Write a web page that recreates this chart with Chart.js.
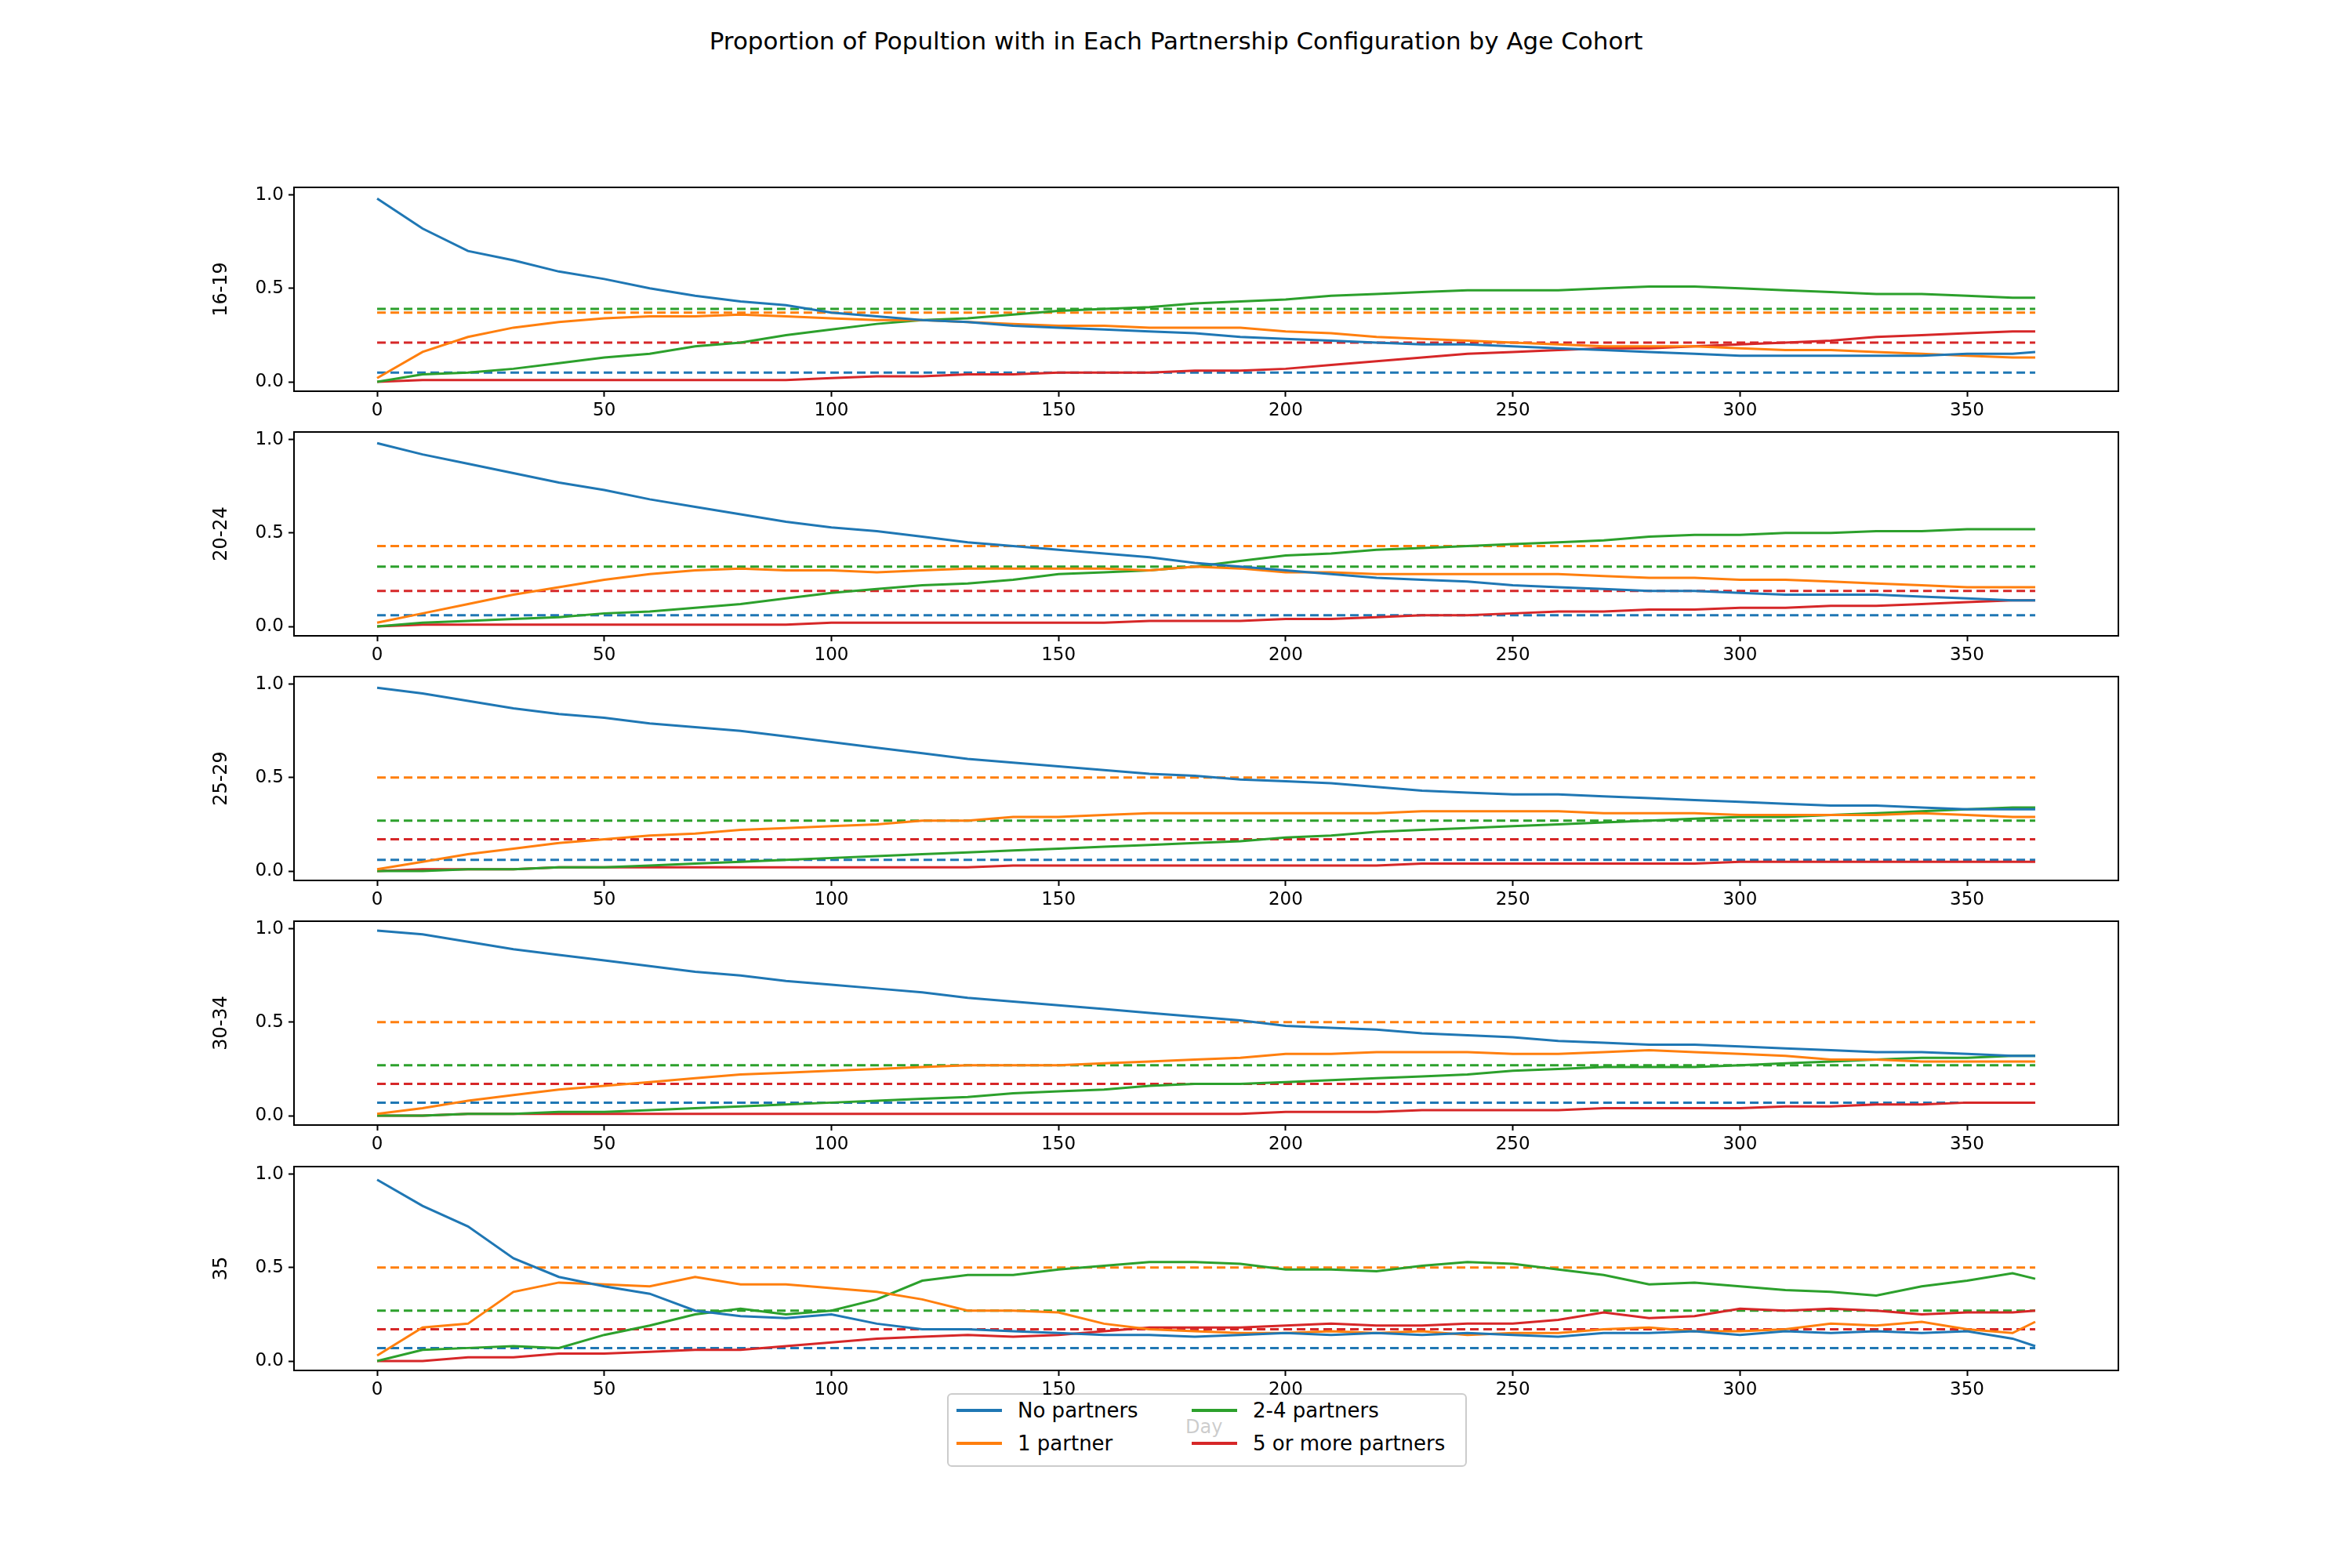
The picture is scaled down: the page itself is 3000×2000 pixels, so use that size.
<!DOCTYPE html>
<html>
<head>
<meta charset="utf-8">
<script src="https://cdn.jsdelivr.net/npm/chart.js@4"></script>
<style>
  body { margin: 0; background: #fff; font-family: "DejaVu Sans", sans-serif; }
  #fig { position: relative; width: 3000px; height: 2000px; }
  .panel { position: absolute; left: 0; width: 2742px; height: 350px; }
  #title { position: absolute; top: 34px; left: 0; width: 3000px; text-align: center; font-size: 31px; }
  #day { position: absolute; top: 1806px; left: 1512px; font-size: 24px; color: #000; }
  #legend { position: absolute; left: 1208px; top: 1777px; width: 659px; height: 90px;
    border: 2px solid #ccc; border-radius: 6px; background: rgba(255,255,255,0.8); font-size: 26px; }
  .item { position: absolute; display: flex; align-items: center; }
  .swatch { width: 58px; height: 4px; margin-right: 20px; }
</style>
</head>
<body>
<div id="fig">
  <div id="title">Proportion of Popultion with in Each Partnership Configuration by Age Cohort</div>
  <div id="day">Day</div>
  <div id="legend">
    <div class="item" style="left:10px;top:5px"><div class="swatch" style="background:#1f77b4"></div>No partners</div>
    <div class="item" style="left:10px;top:47px"><div class="swatch" style="background:#ff7f0e"></div>1 partner</div>
    <div class="item" style="left:310px;top:5px"><div class="swatch" style="background:#2ca02c"></div>2-4 partners</div>
    <div class="item" style="left:310px;top:47px"><div class="swatch" style="background:#d62728"></div>5 or more partners</div>
  </div>
</div>
<script>
const days = [0,10,20,30,40,50,60,70,80,90,100,110,120,130,140,150,160,170,180,190,200,210,220,230,240,250,260,270,280,290,300,310,320,330,340,350,360,365];
const seriesNames = ['No partners', '1 partner', '2-4 partners', '5 or more partners'];
const colors = ['#1f77b4', '#ff7f0e', '#2ca02c', '#d62728'];
const cohorts = ['16-19', '20-24', '25-29', '30-34', '35'];
const xTicks = [0,50,100,150,200,250,300,350];
const yTicks = [0,0.5,1];

// target proportions (dashed lines): none, 1, 2-4, 5+
const targets = [
  [0.05, 0.37, 0.39, 0.21],
  [0.06, 0.43, 0.32, 0.19],
  [0.06, 0.50, 0.27, 0.17],
  [0.07, 0.50, 0.27, 0.17],
  [0.07, 0.50, 0.27, 0.17]
];

const c1619_none = [0.98,0.82,0.70,0.65,0.59,0.55,0.50,0.46,0.43,0.41,0.37,0.35,0.33,0.32,0.30,0.29,0.28,0.27,0.26,0.24,0.23,0.22,0.21,0.20,0.20,0.19,0.18,0.17,0.16,0.15,0.14,0.14,0.14,0.14,0.14,0.15,0.15,0.16];
const c1619_one = [0.02,0.16,0.24,0.29,0.32,0.34,0.35,0.35,0.36,0.35,0.34,0.33,0.33,0.32,0.31,0.30,0.30,0.29,0.29,0.29,0.27,0.26,0.24,0.23,0.22,0.21,0.20,0.19,0.19,0.19,0.18,0.17,0.17,0.16,0.15,0.14,0.13,0.13];
const c1619_few = [0.00,0.04,0.05,0.07,0.10,0.13,0.15,0.19,0.21,0.25,0.28,0.31,0.33,0.34,0.36,0.38,0.39,0.40,0.42,0.43,0.44,0.46,0.47,0.48,0.49,0.49,0.49,0.50,0.51,0.51,0.50,0.49,0.48,0.47,0.47,0.46,0.45,0.45];
const c1619_many = [0.00,0.01,0.01,0.01,0.01,0.01,0.01,0.01,0.01,0.01,0.02,0.03,0.03,0.04,0.04,0.05,0.05,0.05,0.06,0.06,0.07,0.09,0.11,0.13,0.15,0.16,0.17,0.18,0.18,0.19,0.20,0.21,0.22,0.24,0.25,0.26,0.27,0.27];

const c2024_none = [0.98,0.92,0.87,0.82,0.77,0.73,0.68,0.64,0.60,0.56,0.53,0.51,0.48,0.45,0.43,0.41,0.39,0.37,0.34,0.32,0.30,0.28,0.26,0.25,0.24,0.22,0.21,0.20,0.19,0.19,0.18,0.17,0.17,0.17,0.16,0.15,0.14,0.14];
const c2024_one = [0.02,0.07,0.12,0.17,0.21,0.25,0.28,0.30,0.31,0.30,0.30,0.29,0.30,0.31,0.31,0.31,0.31,0.30,0.32,0.31,0.29,0.29,0.28,0.28,0.28,0.28,0.28,0.27,0.26,0.26,0.25,0.25,0.24,0.23,0.22,0.21,0.21,0.21];
const c2024_few = [0.00,0.02,0.03,0.04,0.05,0.07,0.08,0.10,0.12,0.15,0.18,0.20,0.22,0.23,0.25,0.28,0.29,0.30,0.32,0.35,0.38,0.39,0.41,0.42,0.43,0.44,0.45,0.46,0.48,0.49,0.49,0.50,0.50,0.51,0.51,0.52,0.52,0.52];
const c2024_many = [0.00,0.01,0.01,0.01,0.01,0.01,0.01,0.01,0.01,0.01,0.02,0.02,0.02,0.02,0.02,0.02,0.02,0.03,0.03,0.03,0.04,0.04,0.05,0.06,0.06,0.07,0.08,0.08,0.09,0.09,0.10,0.10,0.11,0.11,0.12,0.13,0.14,0.14];

const c2529_none = [0.98,0.95,0.91,0.87,0.84,0.82,0.79,0.77,0.75,0.72,0.69,0.66,0.63,0.60,0.58,0.56,0.54,0.52,0.51,0.49,0.48,0.47,0.45,0.43,0.42,0.41,0.41,0.40,0.39,0.38,0.37,0.36,0.35,0.35,0.34,0.33,0.33,0.33];
const c2529_one = [0.01,0.05,0.09,0.12,0.15,0.17,0.19,0.20,0.22,0.23,0.24,0.25,0.27,0.27,0.29,0.29,0.30,0.31,0.31,0.31,0.31,0.31,0.31,0.32,0.32,0.32,0.32,0.31,0.31,0.31,0.30,0.30,0.30,0.30,0.31,0.30,0.29,0.29];
const c2529_few = [0.00,0.00,0.01,0.01,0.02,0.02,0.03,0.04,0.05,0.06,0.07,0.08,0.09,0.10,0.11,0.12,0.13,0.14,0.15,0.16,0.18,0.19,0.21,0.22,0.23,0.24,0.25,0.26,0.27,0.28,0.29,0.29,0.30,0.31,0.32,0.33,0.34,0.34];
const c2529_many = [0.00,0.01,0.01,0.01,0.02,0.02,0.02,0.02,0.02,0.02,0.02,0.02,0.02,0.02,0.03,0.03,0.03,0.03,0.03,0.03,0.03,0.03,0.03,0.04,0.04,0.04,0.04,0.04,0.04,0.04,0.05,0.05,0.05,0.05,0.05,0.05,0.05,0.05];

const c3034_none = [0.99,0.97,0.93,0.89,0.86,0.83,0.80,0.77,0.75,0.72,0.70,0.68,0.66,0.63,0.61,0.59,0.57,0.55,0.53,0.51,0.48,0.47,0.46,0.44,0.43,0.42,0.40,0.39,0.38,0.38,0.37,0.36,0.35,0.34,0.34,0.33,0.32,0.32];
const c3034_one = [0.01,0.04,0.08,0.11,0.14,0.16,0.18,0.20,0.22,0.23,0.24,0.25,0.26,0.27,0.27,0.27,0.28,0.29,0.30,0.31,0.33,0.33,0.34,0.34,0.34,0.33,0.33,0.34,0.35,0.34,0.33,0.32,0.30,0.30,0.29,0.29,0.29,0.29];
const c3034_few = [0.00,0.00,0.01,0.01,0.02,0.02,0.03,0.04,0.05,0.06,0.07,0.08,0.09,0.10,0.12,0.13,0.14,0.16,0.17,0.17,0.18,0.19,0.20,0.21,0.22,0.24,0.25,0.26,0.26,0.26,0.27,0.28,0.29,0.30,0.31,0.31,0.32,0.32];
const c3034_many = [0.00,0.00,0.01,0.01,0.01,0.01,0.01,0.01,0.01,0.01,0.01,0.01,0.01,0.01,0.01,0.01,0.01,0.01,0.01,0.01,0.02,0.02,0.02,0.03,0.03,0.03,0.03,0.04,0.04,0.04,0.04,0.05,0.05,0.06,0.06,0.07,0.07,0.07];

const c35_none = [0.97,0.83,0.72,0.55,0.45,0.40,0.36,0.27,0.24,0.23,0.25,0.20,0.17,0.17,0.16,0.15,0.14,0.14,0.13,0.14,0.15,0.14,0.15,0.14,0.15,0.14,0.13,0.15,0.15,0.16,0.14,0.16,0.15,0.16,0.15,0.16,0.12,0.08];
const c35_one = [0.03,0.18,0.20,0.37,0.42,0.41,0.40,0.45,0.41,0.41,0.39,0.37,0.33,0.27,0.27,0.26,0.20,0.17,0.16,0.15,0.15,0.16,0.15,0.16,0.14,0.15,0.15,0.17,0.18,0.16,0.16,0.17,0.20,0.19,0.21,0.17,0.15,0.21];
const c35_few = [0.00,0.06,0.07,0.08,0.07,0.14,0.19,0.25,0.28,0.25,0.27,0.33,0.43,0.46,0.46,0.49,0.51,0.53,0.53,0.52,0.49,0.49,0.48,0.51,0.53,0.52,0.49,0.46,0.41,0.42,0.40,0.38,0.37,0.35,0.40,0.43,0.47,0.44];
const c35_many = [0.00,0.00,0.02,0.02,0.04,0.04,0.05,0.06,0.06,0.08,0.10,0.12,0.13,0.14,0.13,0.14,0.16,0.18,0.18,0.18,0.19,0.20,0.19,0.19,0.20,0.20,0.22,0.26,0.23,0.24,0.28,0.27,0.28,0.27,0.25,0.26,0.26,0.27];

const cohortData = [
  [c1619_none, c1619_one, c1619_few, c1619_many],
  [c2024_none, c2024_one, c2024_few, c2024_many],
  [c2529_none, c2529_one, c2529_few, c2529_many],
  [c3034_none, c3034_one, c3034_few, c3034_many],
  [c35_none, c35_one, c35_few, c35_many]
];

const boxPlugin = {
  id: 'box',
  afterDraw(chart) {
    const a = chart.chartArea, ctx = chart.ctx;
    ctx.save();
    ctx.strokeStyle = '#000';
    ctx.lineWidth = 2;
    ctx.strokeRect(a.left, a.top, a.right - a.left, a.bottom - a.top);
    ctx.restore();
  }
};

const fig = document.getElementById('fig');
const panelTops = [239, 551, 863, 1175, 1488];

cohorts.forEach((name, p) => {
  const div = document.createElement('div');
  div.className = 'panel';
  div.style.top = (panelTops[p] - 20) + 'px';
  const canvas = document.createElement('canvas');
  div.appendChild(canvas);
  fig.appendChild(div);

  const datasets = [];
  cohortData[p].forEach((vals, i) => {
    datasets.push({
      label: seriesNames[i],
      data: days.map((d, k) => ({ x: d, y: vals[k] })),
      borderColor: colors[i], borderWidth: 3, pointRadius: 0, tension: 0
    });
  });
  targets[p].forEach((t, i) => {
    datasets.push({
      label: seriesNames[i] + ' target',
      data: [{ x: 0, y: t }, { x: 365, y: t }],
      borderColor: colors[i], borderWidth: 3, borderDash: [11, 6], pointRadius: 0
    });
  });

  new Chart(canvas, {
    type: 'line',
    data: { datasets },
    plugins: [boxPlugin],
    options: {
      responsive: true, maintainAspectRatio: false, animation: false,
      layout: { padding: { left: 268, right: 40, top: 20, bottom: 0 } },
      plugins: { legend: { display: false }, tooltip: { enabled: false } },
      scales: {
        x: {
          type: 'linear', min: -18.3, max: 383.3,
          afterBuildTicks: s => { s.ticks = xTicks.map(v => ({ value: v })); },
          afterFit: s => { s.height = 70; },
          grid: { drawOnChartArea: false, color: '#000', tickLength: 7, tickWidth: 2 },
          border: { display: false },
          ticks: { color: '#000', font: { family: 'DejaVu Sans', size: 23 }, maxRotation: 0, padding: 4 }
        },
        y: {
          min: -0.05, max: 1.04,
          afterBuildTicks: s => { s.ticks = yTicks.map(v => ({ value: v })); },
          afterFit: s => { s.width = 107; },
          grid: { drawOnChartArea: false, color: '#000', tickLength: 7, tickWidth: 2 },
          border: { display: false },
          title: { display: true, text: name, color: '#000', font: { family: 'DejaVu Sans', size: 24 }, padding: 0 },
          ticks: { color: '#000', font: { family: 'DejaVu Sans', size: 23 }, padding: 6, callback: v => v.toFixed(1) }
        }
      }
    }
  });
});
</script>
</body>
</html>
